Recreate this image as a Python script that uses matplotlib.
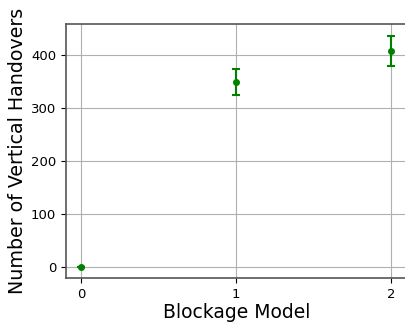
import matplotlib
matplotlib.use("Agg")
import matplotlib.pyplot as plt

# blockage model vs number of vertical handovers
models = [0, 1, 2]
handovers = [0, 349, 407]
handover_err = [0, 24, 29]

fig = plt.figure(figsize=(4.06, 3.24), dpi=100)
ax = fig.add_axes([66 / 406, 46 / 324, 342 / 406, 254 / 324])

ax.errorbar(models, handovers, yerr=handover_err, fmt="o", color="green",
            markersize=4, capsize=3, elinewidth=1.5, capthick=1.5, zorder=3)

ax.set_xlim(-0.097, 2.11)
ax.set_ylim(-21, 458)
ax.set_xticks(models)
ax.set_yticks([0, 100, 200, 300, 400])
ax.tick_params(labelsize=9.5)
ax.grid(True, color="#b0b0b0", linewidth=0.8)
ax.set_axisbelow(True)
for s in ax.spines.values():
    s.set_color("#555555")
    s.set_linewidth(1.2)

ax.set_xlabel("Blockage Model", fontsize=13.5, labelpad=2)
ax.set_ylabel("Number of Vertical Handovers", fontsize=13.7, labelpad=3)

fig.savefig("out.png", dpi=100)
